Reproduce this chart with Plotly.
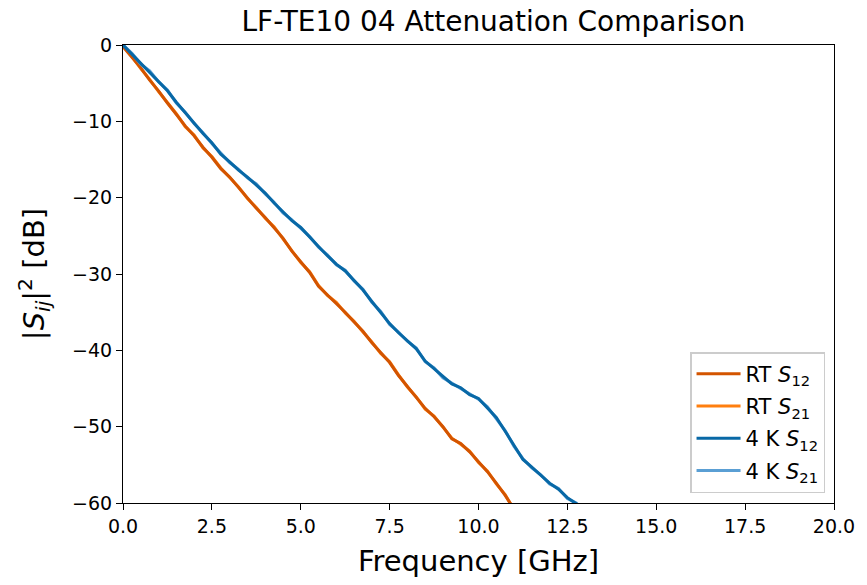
import plotly.graph_objects as go

freq_rt = [0.0, 0.25, 0.5, 0.75, 1.0, 1.25, 1.5, 1.75, 2.0, 2.25, 2.5, 2.75, 3.0, 3.25, 3.5, 3.75,
           4.0, 4.25, 4.5, 4.75, 5.0, 5.25, 5.5, 5.75, 6.0, 6.25, 6.5, 6.75, 7.0, 7.25, 7.5, 7.75,
           8.0, 8.25, 8.5, 8.75, 9.0, 9.25, 9.5, 9.75, 10.0, 10.25, 10.5, 10.75, 11.0]
rt_s12 = [-0.2, -1.6, -3.0, -4.6, -6.0, -7.6, -9.1, -10.6, -11.9, -13.4, -14.7, -16.2, -17.3, -18.7,
          -20.0, -21.4, -22.6, -23.9, -25.3, -27.0, -28.4, -29.8, -31.6, -32.7, -33.8, -35.0, -36.3,
          -37.5, -39.0, -40.3, -41.6, -43.3, -44.7, -46.2, -47.6, -48.7, -50.0, -51.6, -52.2, -53.3,
          -54.6, -55.9, -57.4, -59.0, -60.8]
rt_s21 = [-0.1, -1.5, -3.1, -4.5, -6.1, -7.5, -9.0, -10.7, -11.8, -13.5, -14.6, -16.1, -17.4, -18.6,
          -20.1, -21.3, -22.7, -23.8, -25.4, -26.9, -28.5, -29.7, -31.5, -32.8, -33.7, -35.1, -36.2,
          -37.6, -38.9, -40.4, -41.5, -43.2, -44.8, -46.1, -47.7, -48.6, -50.1, -51.5, -52.3, -53.2,
          -54.7, -55.8, -57.5, -58.9, -60.9]

freq_4k = [0.0, 0.25, 0.5, 0.75, 1.0, 1.25, 1.5, 1.75, 2.0, 2.25, 2.5, 2.75, 3.0, 3.25, 3.5, 3.75,
           4.0, 4.25, 4.5, 4.75, 5.0, 5.25, 5.5, 5.75, 6.0, 6.25, 6.5, 6.75, 7.0, 7.25, 7.5, 7.75,
           8.0, 8.25, 8.5, 8.75, 9.0, 9.25, 9.5, 9.75, 10.0, 10.25, 10.5, 10.75, 11.0, 11.25, 11.5,
           11.75, 12.0, 12.25, 12.5, 12.75, 13.0]
k4_s12 = [0.0, -1.2, -2.4, -3.5, -4.7, -6.0, -7.5, -8.9, -10.2, -11.6, -12.8, -14.3, -15.3, -16.4,
          -17.3, -18.3, -19.4, -20.7, -21.9, -23.0, -23.9, -25.2, -26.4, -27.6, -28.7, -29.6, -30.8,
          -32.1, -33.6, -35.0, -36.5, -37.7, -38.7, -39.8, -41.4, -42.4, -43.5, -44.4, -44.9, -45.8,
          -46.3, -47.5, -48.8, -50.6, -52.5, -54.3, -55.3, -56.4, -57.4, -58.2, -59.3, -60.1, -61.0]
k4_s21 = [0.0, -1.1, -2.5, -3.4, -4.8, -5.9, -7.6, -8.8, -10.3, -11.5, -12.9, -14.2, -15.4, -16.3,
          -17.4, -18.2, -19.5, -20.6, -22.0, -22.9, -24.0, -25.1, -26.5, -27.5, -28.8, -29.5, -30.9,
          -32.0, -33.7, -34.9, -36.6, -37.6, -38.8, -39.7, -41.5, -42.3, -43.6, -44.3, -45.0, -45.7,
          -46.4, -47.4, -48.9, -50.5, -52.6, -54.2, -55.4, -56.3, -57.5, -58.1, -59.4, -60.0, -61.1]

labels = ["RT <i>S</i><sub>12</sub>", "RT <i>S</i><sub>21</sub>",
          "4 K <i>S</i><sub>12</sub>", "4 K <i>S</i><sub>21</sub>"]
colors = ["#d35400", "#ff7f0e", "#0868a6", "#5a9fd4"]

fig = go.Figure()
# S21 drawn first (underneath); legend order set by legendrank
fig.add_trace(go.Scatter(x=freq_rt, y=rt_s21, mode="lines", name=labels[1], legendrank=2,
                         legendgroup="b", line=dict(color=colors[1], width=3)))
fig.add_trace(go.Scatter(x=freq_rt, y=rt_s12, mode="lines", name=labels[0], legendrank=1,
                         legendgroup="a", line=dict(color=colors[0], width=3)))
fig.add_trace(go.Scatter(x=freq_4k, y=k4_s21, mode="lines", name=labels[3], legendrank=4,
                         legendgroup="d", line=dict(color=colors[3], width=3)))
fig.add_trace(go.Scatter(x=freq_4k, y=k4_s12, mode="lines", name=labels[2], legendrank=3,
                         legendgroup="c", line=dict(color=colors[2], width=3)))

axis_common = dict(showline=True, linecolor="black", linewidth=1.2, mirror=True,
                   ticks="outside", ticklen=6, tickwidth=1.2, tickcolor="black",
                   showgrid=False, zeroline=False,
                   tickfont=dict(family="DejaVu Sans", size=19, color="black"))

# page body has an 8px margin, so the figure is sized/offset to compensate
fig.update_layout(
    width=859, height=577,
    margin=dict(l=115, r=28, t=37, b=82),
    paper_bgcolor="white", plot_bgcolor="white",
    font=dict(family="DejaVu Sans", color="black"),
    title=dict(text="LF-TE10 04 Attenuation Comparison", x=0.565, xanchor="center",
               y=0.978, yanchor="middle", font=dict(size=28, color="black")),
    xaxis=dict(range=[0, 20], dtick=2.5, tick0=0, tickformat=".1f",
               title=dict(text="Frequency [GHz]", font=dict(size=29), standoff=14),
               **axis_common),
    yaxis=dict(range=[-60, 0], dtick=10,
               title=dict(text="|<i>S</i><sub><i>ij</i></sub>|<sup>2</sup> [dB]",
                          font=dict(size=29), standoff=18),
               **axis_common),
    legend=dict(x=0.9874, y=0.0218, xanchor="right", yanchor="bottom",
                bgcolor="rgba(255,255,255,0.9)", bordercolor="#cccccc", borderwidth=1.5,
                font=dict(size=21, family="DejaVu Sans"), tracegroupgap=2,
                itemwidth=44),
    showlegend=True,
)

fig.write_html("out.html")
